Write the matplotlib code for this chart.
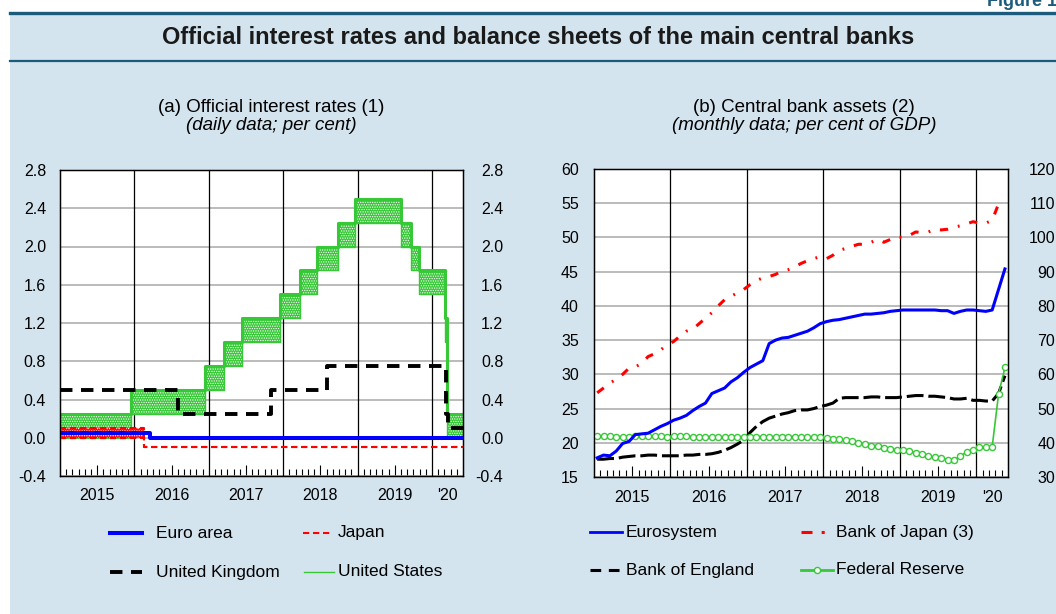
import datetime as dt

import matplotlib.pyplot as plt
import numpy as np
from matplotlib.lines import Line2D
from matplotlib.patches import Rectangle

plt.rcParams['font.family'] = ['Liberation Sans', 'DejaVu Sans']
plt.rcParams['hatch.linewidth'] = 0.6

W, H = 1056, 614

BG = '#d3e4ee'
HEAD = '#1d5b7c'
BLUE = '#0000ff'
RED = '#ff0000'
GREEN = '#36c836'
GRID = '#a8a8a8'

# --- (a) official interest rates: dates of change and new levels ---
EA_DATES = [(2015, 1, 1), (2016, 3, 16)]
EA_RATE = [0.05, 0.00]

JP_DATES = [(2015, 1, 1), (2016, 2, 16)]
JP_LOW = [0.0, -0.1]
JP_HIGH = [0.1, -0.1]

UK_DATES = [(2015, 1, 1), (2016, 8, 4), (2017, 11, 2), (2018, 8, 2),
            (2020, 3, 11), (2020, 3, 19)]
UK_RATE = [0.5, 0.25, 0.5, 0.75, 0.25, 0.1]

US_DATES = [(2015, 1, 1), (2015, 12, 17), (2016, 12, 15), (2017, 3, 16),
            (2017, 6, 15), (2017, 12, 14), (2018, 3, 22), (2018, 6, 14),
            (2018, 9, 27), (2018, 12, 20), (2019, 8, 1), (2019, 9, 19),
            (2019, 10, 31), (2020, 3, 4), (2020, 3, 16)]
US_LOW = [0.0, 0.25, 0.5, 0.75, 1.0, 1.25, 1.5, 1.75, 2.0, 2.25, 2.0, 1.75,
          1.5, 1.0, 0.0]
US_HIGH = [0.25, 0.5, 0.75, 1.0, 1.25, 1.5, 1.75, 2.0, 2.25, 2.5, 2.25, 2.0,
           1.75, 1.25, 0.25]

LAST_DAY = (2020, 5, 31)

# --- (b) central bank assets, monthly from Jan 2015 (per cent of GDP) ---
EUROSYSTEM = [17.8, 18.2, 18.1, 18.8, 19.9, 20.2, 21.2, 21.3, 21.4, 21.9, 22.4, 22.8,
              23.3, 23.6, 24.0, 24.7, 25.3, 25.8, 27.2, 27.6, 28.0, 28.9, 29.5, 30.3,
              31.0, 31.5, 32.0, 34.5, 35.0, 35.3, 35.4, 35.7, 36.0, 36.3, 36.8, 37.4,
              37.7, 37.9, 38.0, 38.2, 38.4, 38.6, 38.8, 38.8, 38.9, 39.0, 39.2, 39.3,
              39.4, 39.4, 39.4, 39.4, 39.4, 39.4, 39.3, 39.3, 38.9, 39.2, 39.4, 39.4,
              39.3, 39.2, 39.4, 42.4, 45.4]

FED = [21.0, 21.0, 21.0, 20.9, 20.9, 20.9, 21.0, 21.0, 21.0, 21.0, 21.0, 20.9,
       21.0, 21.0, 21.0, 20.9, 20.9, 20.9, 20.9, 20.8, 20.8, 20.8, 20.8, 20.8,
       20.8, 20.9, 20.9, 20.9, 20.9, 20.9, 20.9, 20.9, 20.8, 20.8, 20.8, 20.8,
       20.7, 20.6, 20.5, 20.4, 20.2, 20.0, 19.8, 19.6, 19.5, 19.3, 19.1, 19.0,
       18.9, 18.8, 18.5, 18.3, 18.1, 17.9, 17.8, 17.5, 17.5, 18.0, 18.7, 18.9,
       19.4, 19.4, 19.4, 27.1, 31.0]

BOE = [17.6, 17.6, 17.7, 17.7, 17.9, 18.0, 18.1, 18.1, 18.2, 18.2, 18.1, 18.1,
       18.1, 18.1, 18.2, 18.2, 18.3, 18.3, 18.4, 18.6, 18.9, 19.3, 19.8, 20.4,
       21.5, 22.4, 23.1, 23.6, 23.9, 24.2, 24.4, 24.7, 24.8, 24.8, 25.0, 25.3,
       25.5, 25.8, 26.5, 26.6, 26.6, 26.6, 26.6, 26.7, 26.7, 26.6, 26.6, 26.6,
       26.7, 26.8, 26.9, 26.9, 26.8, 26.8, 26.7, 26.6, 26.4, 26.4, 26.5, 26.2,
       26.2, 26.1, 26.1, 27.2, 29.8]

# Bank of Japan on the right-hand scale
BOJ = [54.6, 56.0, 57.4, 58.6, 60.0, 61.8, 62.2, 63.2, 65.2, 66.0, 67.2, 68.6,
       69.6, 71.2, 72.6, 73.2, 74.8, 76.4, 78.0, 80.0, 81.8, 82.8, 83.8, 84.8,
       86.2, 87.4, 88.2, 88.6, 89.2, 90.2, 90.6, 91.4, 92.4, 93.2, 93.8, 94.4,
       93.8, 94.8, 96.2, 96.8, 97.4, 98.0, 98.0, 98.6, 99.4, 98.6, 99.4, 100.2,
       100.0, 100.6, 101.6, 101.4, 101.6, 102.4, 102.2, 102.4, 103.0, 103.4, 104.0, 104.6,
       104.2, 104.2, 105.0, 109.8]

YEAR_LABELS = ['2015', '2016', '2017', '2018', '2019', "'20"]
RATE_TICKS = [-0.4, 0.0, 0.4, 0.8, 1.2, 1.6, 2.0, 2.4, 2.8]
ASSET_TICKS = [15, 20, 25, 30, 35, 40, 45, 50, 55, 60]
ASSET_TICKS_R = [30, 40, 50, 60, 70, 80, 90, 100, 110, 120]

BOJ_DASH = (2.7, 3.3, 0.6, 3.3)


def year_frac(d):
    y, m, day = d
    start = dt.date(y, 1, 1)
    days = (dt.date(y + 1, 1, 1) - start).days
    return y + (dt.date(y, m, day) - start).days / days


def steps(dates, values):
    x = [year_frac(d) for d in dates] + [year_frac(LAST_DAY)]
    y = list(values) + [values[-1]]
    return x, y


def fx(x):
    return x / W


def fy(y):
    return 1 - y / H


X_END = year_frac(LAST_DAY) + 1 / 365


def style_time_axis(ax):
    ax.set_xlim(2015, X_END)
    ax.set_xticks([2015.5, 2016.5, 2017.5, 2018.5, 2019.5, 2020.21])
    ax.set_xticklabels(YEAR_LABELS)
    months = [2015 + k / 12 for k in range(1, 65) if k % 12 not in (0, 6)]
    ax.set_xticks(months, minor=True)
    ax.tick_params(axis='x', which='major', direction='in', length=8,
                   width=0.8, pad=9, labelsize=11.5)
    ax.tick_params(axis='x', which='minor', direction='in', length=5, width=0.8)
    ax.xaxis.get_major_ticks()[-1].tick1line.set_visible(False)
    for yr in range(2016, 2021):
        ax.axvline(yr, color='black', lw=0.9, zorder=1)
    ax.grid(axis='y', color=GRID, lw=1.1, zorder=0)
    ax.set_axisbelow(True)
    for s in ax.spines.values():
        s.set_linewidth(1.0)


def style_right_labels(ax2, pad):
    ax2.tick_params(axis='y', length=0, pad=pad, labelsize=11.5)
    for lbl in ax2.get_yticklabels():
        lbl.set_horizontalalignment('right')


fig = plt.figure(figsize=(W / 100, H / 100), dpi=100, facecolor='white')

# background panel and header rules
fig.add_artist(Rectangle((fx(10), 0), 1 - fx(10), fy(13), transform=fig.transFigure,
                         facecolor=BG, edgecolor='none', zorder=-10))
fig.add_artist(Line2D([fx(10), 1], [fy(13), fy(13)], transform=fig.transFigure,
                      color=HEAD, lw=2.4))
fig.add_artist(Line2D([fx(10), 1], [fy(61), fy(61)], transform=fig.transFigure,
                      color=HEAD, lw=1.6))
fig.text(fx(1062), fy(1), 'Figure 1.', ha='right', va='center', fontsize=13,
         fontweight='bold', color=HEAD)
fig.text(fx(538), fy(38), 'Official interest rates and balance sheets of the main central banks',
         ha='center', va='center', fontsize=17, fontweight='bold', color='#1a1a1a')

# panel headings
fig.text(fx(271), fy(107), '(a) Official interest rates (1)', ha='center', va='center',
         fontsize=13.5)
fig.text(fx(271), fy(126), '(daily data; per cent)', ha='center', va='center',
         fontsize=13.5, style='italic')
fig.text(fx(804), fy(107), '(b) Central bank assets (2)', ha='center', va='center',
         fontsize=13.5)
fig.text(fx(804), fy(126), '(monthly data; per cent of GDP)', ha='center', va='center',
         fontsize=13.5, style='italic')

# ---------------- (a) official interest rates ----------------
ax1 = fig.add_axes([fx(60), fy(476), fx(463) - fx(60), fy(170) - fy(476)])
ax1.set_facecolor('white')

ux, ulo = steps(US_DATES, US_LOW)
_, uhi = steps(US_DATES, US_HIGH)
ax1.fill_between(ux, ulo, uhi, step='post', facecolor=GREEN, edgecolor='white',
                 hatch='.......', linewidth=0, zorder=2)
ax1.plot(ux, uhi, drawstyle='steps-post', color=GREEN, lw=2.2, zorder=2)
ax1.plot(ux, ulo, drawstyle='steps-post', color=GREEN, lw=1.0, zorder=2)

jx, jlo = steps(JP_DATES, JP_LOW)
_, jhi = steps(JP_DATES, JP_HIGH)
ax1.fill_between(jx, jlo, jhi, step='post', facecolor=RED, edgecolor='white',
                 hatch='.......', linewidth=0, zorder=3)
ax1.plot(jx, jhi, drawstyle='steps-post', color=RED, lw=1.5, dashes=(3, 1.8), zorder=3)
ax1.plot(jx, jlo, drawstyle='steps-post', color=RED, lw=1.5, dashes=(3, 1.8), zorder=3)

kx, kr = steps(UK_DATES, UK_RATE)
ax1.plot(kx, kr, drawstyle='steps-post', color='black', lw=2.8, dashes=(3.2, 2.2), zorder=4)

ex, er = steps(EA_DATES, EA_RATE)
ax1.plot(ex, er, drawstyle='steps-post', color=BLUE, lw=2.9, zorder=5)

ax1.set_ylim(-0.4, 2.8)
ax1.set_yticks(RATE_TICKS)
ax1.set_yticklabels([f'{v:.1f}' for v in RATE_TICKS])
ax1.tick_params(axis='y', length=0, pad=10, labelsize=11.5)
style_time_axis(ax1)

ax1r = ax1.twinx()
ax1r.set_ylim(-0.4, 2.8)
ax1r.set_yticks(RATE_TICKS)
ax1r.set_yticklabels([f'{v:.1f}' for v in RATE_TICKS])
style_right_labels(ax1r, 29)

# ---------------- (b) central bank assets ----------------
ax2 = fig.add_axes([fx(594), fy(477), fx(1008) - fx(594), fy(169) - fy(477)])
ax2.set_facecolor('white')
mx = 2015 + (np.arange(len(EUROSYSTEM)) + 0.5) / 12

ax2.plot(mx, BOE, color='black', lw=2.2, dashes=(5.5, 1.6), zorder=3)
ax2.plot(mx, FED, color=GREEN, lw=1.2, marker='o', ms=4.4, mfc='white',
         mec=GREEN, mew=1.0, zorder=4)
ax2.plot(mx, EUROSYSTEM, color=BLUE, lw=2.2, zorder=5)

ax2.set_ylim(15, 60)
ax2.set_yticks(ASSET_TICKS)
ax2.tick_params(axis='y', length=0, pad=11, labelsize=11.5)
style_time_axis(ax2)

ax2r = ax2.twinx()
ax2r.plot(mx[:len(BOJ)], BOJ, color=RED, lw=2.2, dashes=BOJ_DASH, zorder=5)
ax2r.set_ylim(30, 120)
ax2r.set_yticks(ASSET_TICKS_R)
style_right_labels(ax2r, 34)


# ---------------- legends ----------------
def legend_entry(x0, x1, y, xt, label, **style):
    mid = (x0 + x1) / 2
    fig.add_artist(Line2D([fx(x0), fx(mid), fx(x1)], [fy(y)] * 3,
                          transform=fig.transFigure, **style))
    fig.text(fx(xt), fy(y), label, ha='left', va='center', fontsize=12.5)


legend_entry(110, 142, 533, 156, 'Euro area', color=BLUE, lw=2.9)
legend_entry(303, 332, 533, 338, 'Japan', color=RED, lw=1.5, dashes=(3, 1.8))
legend_entry(110, 142, 572, 156, 'United Kingdom', color='black', lw=2.8, dashes=(3.2, 2.2))
legend_entry(304, 334, 572, 338, 'United States', color=GREEN, lw=1.0)

legend_entry(590, 622, 532, 626, 'Eurosystem', color=BLUE, lw=2.0)
legend_entry(801, 825, 532, 836, 'Bank of Japan (3)', color=RED, lw=2.2,
             dashes=(3.6, 3.0, 1.0, 10))
legend_entry(590, 622, 570, 626, 'Bank of England', color='black', lw=2.2,
             dashes=(3.5, 2.5))
legend_entry(801, 833, 570, 836, 'Federal Reserve', color=GREEN, lw=2.0, marker='o',
             ms=4.4, mfc='white', mec=GREEN, mew=1.0, markevery=[1])

fig.savefig('out.png', dpi=100, facecolor=fig.get_facecolor())
